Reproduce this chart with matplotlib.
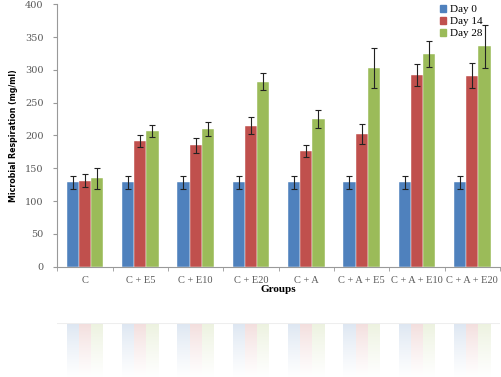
import numpy as np
import matplotlib.pyplot as plt
from matplotlib.patches import Patch

groups = ["C", "C + E5", "C + E10", "C + E20", "C + A", "C + A + E5", "C + A + E10", "C + A + E20"]
day0 = [129, 129, 129, 129, 129, 129, 129, 129]
day0_err = [10, 10, 10, 10, 10, 10, 10, 10]
day14 = [131, 191, 185, 215, 176, 202, 292, 291]
day14_err = [10, 9, 11, 13, 9, 15, 17, 19]
day28 = [135, 207, 210, 282, 225, 303, 324, 336]
day28_err = [16, 9, 11, 13, 14, 30, 20, 33]
series = ["Day 0", "Day 14", "Day 28"]
colors = ["#4F81BD", "#C0504D", "#9BBB59"]

serif = ["Liberation Serif"]
gray = "#595959"

fig = plt.figure(figsize=(5.01, 3.77), dpi=100)
ax = fig.add_axes([0.1144, 0.2926, 0.8836, 0.696])

x = np.arange(len(groups))
w = 0.22
vals = [day0, day14, day28]
errs = [day0_err, day14_err, day28_err]
for i in range(3):
    ax.bar(x + (i - 1) * w, vals[i], w, color=colors[i], edgecolor="white", linewidth=0.3,
           yerr=errs[i], error_kw=dict(ecolor="#222222", elinewidth=0.8, capsize=2, capthick=0.8))

ax.set_xlim(-0.5, len(groups) - 0.5)
ax.set_ylim(0, 400)
ax.set_yticks(np.arange(0, 401, 50))
ax.set_xticks(x)
ax.set_xticklabels(groups, fontsize=7.5, family=serif, color=gray)
ax.set_xticks(np.arange(-0.5, len(groups)), minor=True)
ax.tick_params(axis="x", which="major", length=0, pad=7)
ax.tick_params(axis="x", which="minor", length=3, color="#999999")
ax.tick_params(axis="y", length=3, color="#999999", labelsize=7, labelcolor=gray, pad=7)
for lab in ax.get_yticklabels():
    lab.set_family("DejaVu Serif")
for s in ["top", "right"]:
    ax.spines[s].set_visible(False)
for s in ["left", "bottom"]:
    ax.spines[s].set_color("#999999")
    ax.spines[s].set_linewidth(0.8)

ax.set_xlabel("Groups", fontsize=8, family=serif, fontweight="bold", labelpad=0)
ax.set_ylabel("Microbial Respiration (mg/ml)", fontsize=5.7, fontweight="bold",
              family=["Liberation Sans Narrow", "DejaVu Sans"], labelpad=5)

handles = [Patch(color=c) for c in colors]
ax.legend(handles, series, loc="upper left", bbox_to_anchor=(0.865, 0.997), frameon=False,
          prop={"family": serif, "size": 8}, handlelength=0.55, handleheight=0.55,
          handletextpad=0.3, labelspacing=0.25, borderaxespad=0, borderpad=0)

# faded reflection under the chart
ref = fig.add_axes([0.1144, 0.0, 0.8836, 54 / 377])
for i in range(3):
    ref.bar(x + (i - 1) * w, vals[i], w, color=colors[i], alpha=0.2, linewidth=0)
ref.set_xlim(-0.5, len(groups) - 0.5)
ref.set_ylim(82, 0)
ref.set_xticks([])
ref.set_yticks([])
for s in ["top", "right", "left", "bottom"]:
    ref.spines[s].set_visible(False)
ref.axhline(0, color="#eeeeee", linewidth=0.8)
grad = np.zeros((100, 2, 4))
grad[..., :3] = 1.0
grad[..., 3] = np.linspace(0, 1, 100)[:, None] ** 0.8
ref.imshow(grad, extent=[-0.5, len(groups) - 0.5, 82, 0], aspect="auto", zorder=5)

fig.savefig("out.png", dpi=100)
